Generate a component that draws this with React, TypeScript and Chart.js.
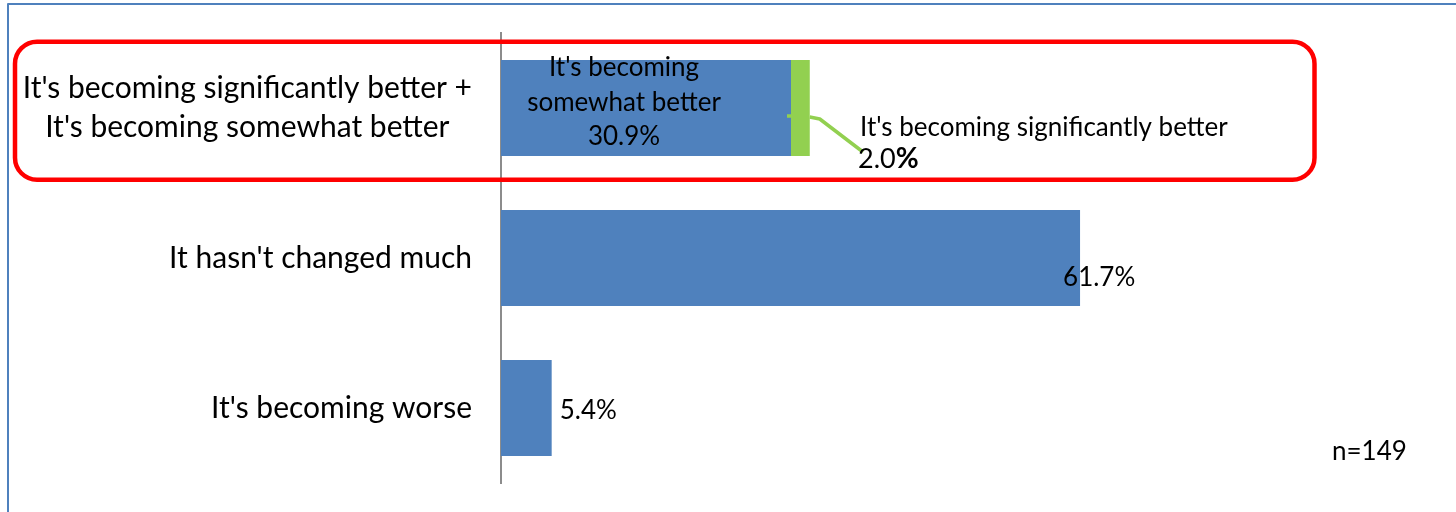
import React, { useEffect, useRef } from "react";
import { Chart, registerables } from "chart.js";

Chart.register(...registerables);

const categories: string[][] = [
  ["It's becoming significantly better +", "It's becoming somewhat better"],
  ["It hasn't changed much"],
  ["It's becoming worse"],
];
const mainValues: number[] = [30.9, 61.7, 5.4];
const significantValues: (number | null)[] = [2.0, null, null];
const mainLabelTexts: string[][] = [
  ["It's becoming", "somewhat better", "30.9%"],
  ["61.7%"],
  ["5.4%"],
];
const significantLabel = "It's becoming significantly better";
const significantValueText = "2.0";
const sampleNote = "n=149";

const FONT = "Lato, 'Open Sans', sans-serif";
const BLUE = "#4F81BD";
const GREEN = "#92D050";

const overlayPlugin = {
  id: "overlay",
  afterDatasetsDraw(chart: any) {
    const ctx = chart.ctx as CanvasRenderingContext2D;
    const xs = chart.scales.x;
    const ys = chart.scales.y;
    ctx.save();
    // leader line for the small green segment
    const y0 = ys.getPixelForValue(0);
    const blueRight = xs.getPixelForValue(mainValues[0]);
    const greenRight = xs.getPixelForValue(mainValues[0] + (significantValues[0] || 0));
    ctx.strokeStyle = GREEN;
    ctx.lineWidth = 3.5;
    ctx.lineJoin = "round";
    ctx.beginPath();
    ctx.moveTo(blueRight - 4, y0 + 8);
    ctx.lineTo(blueRight, y0 + 8);
    ctx.stroke();
    ctx.beginPath();
    ctx.moveTo(greenRight, y0 + 9);
    ctx.lineTo(greenRight + 10, y0 + 11);
    ctx.lineTo(863, y0 + 44);
    ctx.stroke();

    ctx.fillStyle = "#000";
    ctx.textBaseline = "middle";

    // category labels (block right-aligned, lines centered within block)
    ctx.font = `30px ${FONT}`;
    const rightEdge = 472;
    categories.forEach((lines, i) => {
      const cy = ys.getPixelForValue(i);
      const widths = lines.map((l) => ctx.measureText(l).width);
      const maxW = Math.max(...widths);
      const lh = 39;
      lines.forEach((l, j) => {
        const ly = cy + (j - (lines.length - 1) / 2) * lh;
        ctx.textAlign = "center";
        ctx.fillText(l, rightEdge - maxW / 2, ly);
      });
    });

    // data labels
    ctx.font = `26px ${FONT}`;
    {
      const cy = ys.getPixelForValue(0);
      const cx = (xs.getPixelForValue(0) + blueRight) / 2 - 22;
      const lines = mainLabelTexts[0];
      ctx.textAlign = "center";
      lines.forEach((l, j) => {
        ctx.fillText(l, cx, cy - 40 + j * 34.5);
      });
    }
    {
      const cy = ys.getPixelForValue(1);
      const xr = xs.getPixelForValue(mainValues[1]);
      ctx.textAlign = "left";
      ctx.fillText(mainLabelTexts[1][0], xr - 17, cy + 20);
    }
    {
      const cy = ys.getPixelForValue(2);
      const xr = xs.getPixelForValue(mainValues[2]);
      ctx.textAlign = "left";
      ctx.fillText(mainLabelTexts[2][0], xr + 8, cy + 3);
    }
    {
      ctx.textAlign = "left";
      ctx.fillText(significantLabel, 860, y0 + 20);
      ctx.font = `27px ${FONT}`;
      ctx.fillText(significantValueText, 858, y0 + 51);
      const w = ctx.measureText(significantValueText).width;
      ctx.font = `bold 28px ${FONT}`;
      ctx.fillText("%", 858 + w, y0 + 51);
    }
    ctx.font = `26px ${FONT}`;
    ctx.textAlign = "left";
    ctx.fillText(sampleNote, 1332, 452);

    // red rounded highlight box
    ctx.strokeStyle = "#FF0000";
    ctx.lineWidth = 4.5;
    ctx.beginPath();
    (ctx as any).roundRect(15, 41.7, 1314.5 - 15, 179.7 - 41.7, 22);
    ctx.stroke();

    // outer border
    ctx.strokeStyle = "#4F81BD";
    ctx.lineWidth = 2;
    ctx.strokeRect(8, 4, 1460, 520);
    ctx.restore();
  },
};

export default function App() {
  const canvasRef = useRef<HTMLCanvasElement | null>(null);

  useEffect(() => {
    document.body.style.margin = "0";
    const canvas = canvasRef.current;
    if (!canvas) return;
    const chart = new Chart(canvas, {
      type: "bar",
      data: {
        labels: categories,
        datasets: [
          {
            label: "It's becoming somewhat better",
            data: mainValues,
            backgroundColor: BLUE,
            borderWidth: 0,
            barPercentage: 0.64,
            categoryPercentage: 1,
          },
          {
            label: "It's becoming significantly better",
            data: significantValues,
            backgroundColor: GREEN,
            borderWidth: 0,
            barPercentage: 0.64,
            categoryPercentage: 1,
          },
        ],
      },
      options: {
        indexAxis: "y",
        animation: false,
        responsive: false,
        maintainAspectRatio: false,
        layout: { padding: { left: 501, top: 33, bottom: 29, right: 16.5 } },
        plugins: {
          legend: { display: false },
          tooltip: { enabled: false },
        },
        scales: {
          x: {
            stacked: true,
            min: 0,
            max: 100,
            display: false,
          },
          y: {
            stacked: true,
            grid: { display: false, drawTicks: false },
            ticks: { display: false },
            border: { display: true, color: "#8C8C8C", width: 2 },
            afterFit: (s: any) => {
              s.width = 0;
            },
          },
        },
      },
      plugins: [overlayPlugin],
    });
    return () => chart.destroy();
  }, []);

  return (
    <div style={{ width: 1456, height: 512, background: "#fff" }}>
      <canvas ref={canvasRef} width={1456} height={512} style={{ display: "block" }} />
    </div>
  );
}
